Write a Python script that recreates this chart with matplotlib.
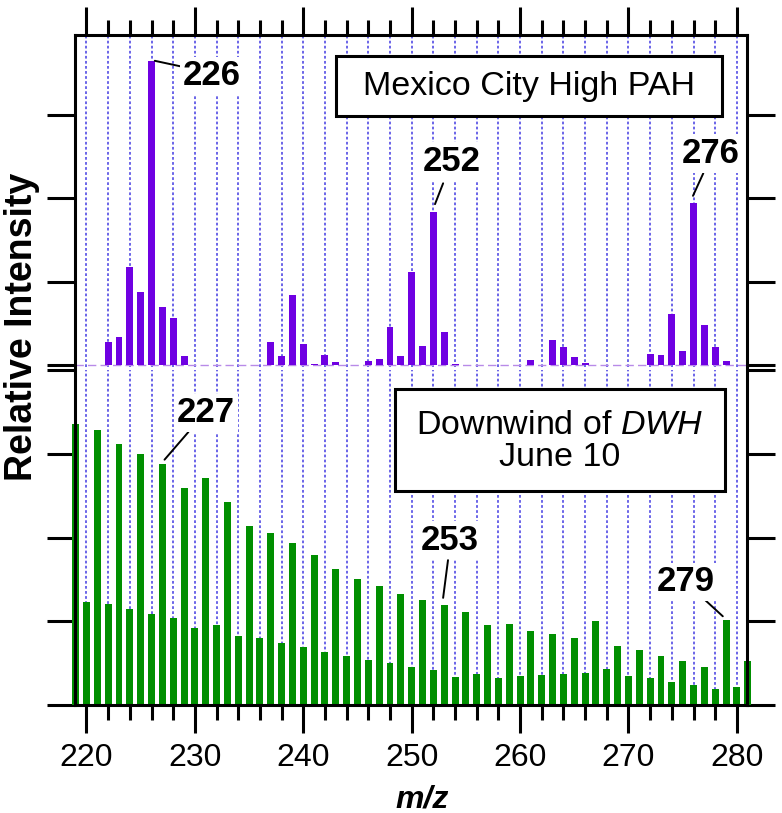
import matplotlib
matplotlib.use("Agg")
import matplotlib.pyplot as plt
from matplotlib.patches import Rectangle
from matplotlib.ticker import MultipleLocator

plt.rcParams["font.family"] = ["Liberation Sans", "DejaVu Sans"]
plt.rcParams["mathtext.fontset"] = "custom"
plt.rcParams["mathtext.rm"] = "Liberation Sans"
plt.rcParams["mathtext.it"] = "Liberation Sans:italic"

# ── data ───────────────────────────────────────────────────────────────
MZ = list(range(219, 282))

MEXICO = [
    0, 0, 0, 0.28, 0.34, 1.17, 0.88, 3.65, 0.70, 0.56,   # 219-228
    0.11, 0, 0, 0, 0, 0, 0, 0, 0.27, 0.11,              # 229-238
    0.84, 0.25, 0.01, 0.12, 0.03, 0, 0, 0.05, 0.07, 0.45,  # 239-248
    0.11, 1.11, 0.23, 1.83, 0.40, 0.01, 0, 0, 0, 0,     # 249-258
    0, 0, 0.06, 0, 0.30, 0.22, 0.09, 0.02, 0, 0,        # 259-268
    0, 0, 0, 0.13, 0.12, 0.61, 0.17, 1.94, 0.48, 0.21,  # 269-278
    0.05, 0, 0,                                         # 279-281
]

DWH = [
    3.36, 1.23, 3.28, 1.21, 3.12, 1.15, 3.00, 1.09, 2.88, 1.04,  # 219-228
    2.59, 0.92, 2.71, 0.96, 2.42, 0.82, 2.14, 0.80, 2.06, 0.74,  # 229-238
    1.93, 0.69, 1.79, 0.63, 1.63, 0.59, 1.50, 0.54, 1.42, 0.50,  # 239-248
    1.33, 0.46, 1.26, 0.42, 1.20, 0.33, 1.11, 0.37, 0.96, 0.32,  # 249-258
    0.97, 0.35, 0.89, 0.36, 0.85, 0.37, 0.80, 0.38, 1.00, 0.43,  # 259-268
    0.70, 0.35, 0.66, 0.32, 0.59, 0.28, 0.52, 0.24, 0.46, 0.19,  # 269-278
    1.02, 0.21, 0.52,                                            # 279-281
]

# peak labels: (text, bar top, line start, label position)
TOP_LABELS = [
    ("226", (226.3, 3.65), (228.8, 3.58), (231.6, 3.47)),
    ("252", (252.15, 1.93), (252.9, 2.18), (253.7, 2.44)),
    ("276", (275.95, 2.03), (276.9, 2.30), (277.6, 2.54)),
]
BOTTOM_LABELS = [
    ("227", (227.2, 2.93), (229.4, 3.26), (231.0, 3.49)),
    ("253", (252.9, 1.28), (253.35, 1.73), (253.5, 1.97)),
    ("279", (278.7, 1.06), (277.1, 1.25), (275.3, 1.47)),
]

PURPLE = "#6f00e2"
GREEN = "#008f00"
GRID = "#6a64e8"
LW = 2.2

fig = plt.figure(figsize=(7.82, 8.13), dpi=100)
ax_top = fig.add_axes([0.0959, 0.5490, 0.8593, 0.4080])
ax_bot = fig.add_axes([0.0959, 0.1328, 0.8593, 0.4120])

for ax in (ax_top, ax_bot):
    ax.set_xlim(218.94, 280.93)
    ax.xaxis.set_major_locator(MultipleLocator(10))
    ax.xaxis.set_minor_locator(MultipleLocator(2))
    ax.set_axisbelow(True)
    ax.grid(which="both", axis="x", color=GRID, lw=1.4, ls=(0, (1.4, 1.2)))
    for s in ax.spines.values():
        s.set_linewidth(LW)
    ax.tick_params(which="major", length=20, width=LW, direction="out")
    ax.tick_params(which="minor", length=10.5, width=LW, direction="out")
    ax.tick_params(axis="y", left=True, right=True, labelleft=False, labelright=False)

# ── top: Mexico City ───────────────────────────────────────────────────
ax_top.bar(MZ, MEXICO, width=0.64, color=PURPLE, linewidth=0, zorder=2, clip_on=False)
ax_top.axhline(0, color="#b88ae8", lw=1.0, ls=(0, (6, 3)), zorder=1.5)
ax_top.set_ylim(-0.02, 3.96)
ax_top.set_yticks([0, 1, 2, 3])
ax_top.spines["bottom"].set_visible(False)
ax_top.tick_params(axis="x", which="both", bottom=False, top=True,
                   labelbottom=False, labeltop=False)

# ── bottom: downwind of DWH ────────────────────────────────────────────
ax_bot.bar(MZ, DWH, width=0.64, color=GREEN, linewidth=0, zorder=2, clip_on=False)
ax_bot.set_ylim(0, 4)
ax_bot.set_yticks([0, 1, 2, 3, 4])
ax_bot.spines["top"].set_visible(False)
ax_bot.tick_params(axis="x", which="both", bottom=True, top=False, labelsize=23, pad=7)

for ax, labels in ((ax_top, TOP_LABELS), (ax_bot, BOTTOM_LABELS)):
    for txt, tip, start, pos in labels:
        ax.annotate("", xy=tip, xytext=start,
                    arrowprops=dict(arrowstyle="-", lw=1.4, color="black",
                                    shrinkA=0, shrinkB=0), zorder=4)
        ax.text(*pos, txt, fontsize=25, fontweight="bold", ha="center", va="center",
                zorder=5, bbox=dict(fc="white", ec="none", pad=2))

# boxed titles
ax_top.add_patch(Rectangle((0.3884, 0.7558), 0.5744, 0.1809, transform=ax_top.transAxes,
                           fc="white", ec="black", lw=LW, zorder=5))
ax_top.text(0.6756, 0.846, "Mexico City High PAH", transform=ax_top.transAxes,
            fontsize=24.5, ha="center", va="center", zorder=6)

ax_bot.add_patch(Rectangle((0.4762, 0.6388), 0.4911, 0.3045, transform=ax_bot.transAxes,
                           fc="white", ec="black", lw=LW, zorder=5))
ax_bot.text(0.7217, 0.786, "Downwind of $\\mathit{DWH}$\nJune 10", transform=ax_bot.transAxes,
            fontsize=24.5, ha="center", va="center", linespacing=1.05, zorder=6)

fig.text(0.028, 0.598, "Relative Intensity", rotation=90, fontsize=27,
         fontweight="bold", ha="center", va="center")
fig.text(0.54, 0.017, "m/z", fontsize=23, fontweight="bold", fontstyle="italic",
         ha="center", va="center")

fig.savefig("out.png", dpi=100, facecolor="white")
